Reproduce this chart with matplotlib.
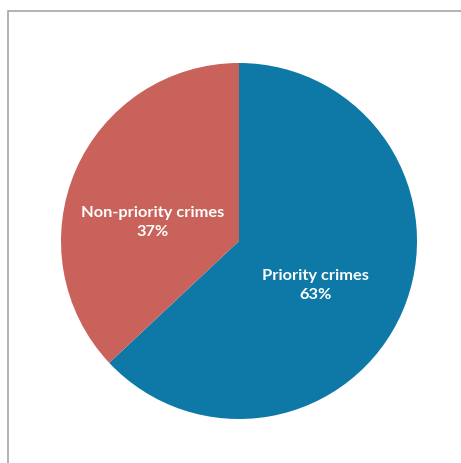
import matplotlib
matplotlib.use("Agg")
import matplotlib.pyplot as plt
from matplotlib.patches import Rectangle

# data
categories = ["Priority crimes", "Non-priority crimes"]
shares = [63, 37]
colors = ["#0e79a7", "#c9625a"]

fig = plt.figure(figsize=(4.61, 4.64), dpi=100)

# thin gray frame around the chart (open on right/bottom, as in the source)
fig.patches.append(Rectangle((8 / 461, -0.1), 1.2, (464 - 12) / 464 + 0.1,
                             transform=fig.transFigure, fill=False,
                             edgecolor="#a6a6a6", linewidth=1.2))

ax = fig.add_axes([(239 - 178) / 461, (464 - 242 - 178) / 464, 356 / 461, 356 / 464])
wedges, _ = ax.pie(shares, colors=colors, startangle=90, counterclock=False,
                   radius=1.0, wedgeprops=dict(linewidth=0))
ax.set_xlim(-1, 1)
ax.set_ylim(-1, 1)
ax.set_aspect("equal")
ax.axis("off")

label_pos = [(0.43, -0.245), (-0.485, 0.11)]
for name, val, (x, y) in zip(categories, shares, label_pos):
    ax.text(x, y, f"{name}\n{val}%", ha="center", va="center", color="white",
            fontsize=11.8, fontweight="bold", family="Lato", linespacing=1.4)

plt.savefig("out.png", dpi=100)
